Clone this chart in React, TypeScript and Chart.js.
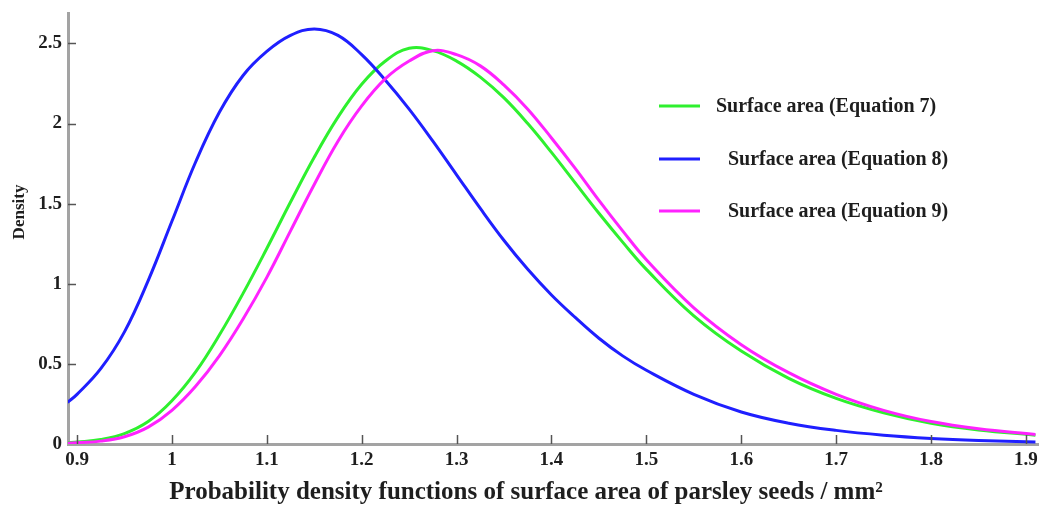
import React, { useEffect, useRef } from "react";
import { Chart, registerables } from "chart.js";

Chart.register(...registerables);

const xValues = [0.89, 0.9, 0.925, 0.95, 0.975, 1.0, 1.025, 1.05, 1.075, 1.1, 1.125, 1.15, 1.175, 1.2, 1.225, 1.25, 1.275, 1.3, 1.325, 1.35, 1.375, 1.4, 1.425, 1.45, 1.475, 1.5, 1.55, 1.6, 1.65, 1.7, 1.75, 1.8, 1.85, 1.91];
const eq7 = [0.008, 0.012, 0.028, 0.065, 0.14, 0.27, 0.45, 0.68, 0.94, 1.22, 1.51, 1.79, 2.04, 2.245, 2.39, 2.47, 2.455, 2.39, 2.29, 2.16, 2.0, 1.82, 1.63, 1.44, 1.26, 1.09, 0.8, 0.58, 0.41, 0.285, 0.195, 0.13, 0.088, 0.055];
const eq8 = [0.26, 0.31, 0.47, 0.7, 1.02, 1.39, 1.76, 2.07, 2.3, 2.45, 2.55, 2.59, 2.55, 2.43, 2.27, 2.09, 1.89, 1.68, 1.47, 1.27, 1.09, 0.93, 0.79, 0.66, 0.55, 0.46, 0.31, 0.2, 0.13, 0.085, 0.055, 0.035, 0.022, 0.012];
const eq9 = [0.004, 0.008, 0.018, 0.045, 0.105, 0.21, 0.36, 0.55, 0.78, 1.04, 1.33, 1.62, 1.89, 2.11, 2.28, 2.39, 2.455, 2.43, 2.36, 2.24, 2.09, 1.91, 1.72, 1.52, 1.33, 1.15, 0.85, 0.62, 0.445, 0.31, 0.21, 0.14, 0.095, 0.06];

const seriesLabels = ["Surface area (Equation 7)", "Surface area (Equation 8)", "Surface area (Equation 9)"];
const seriesColors = ["#2ef02e", "#1f1fff", "#ff22ff"];

const xTicks = [0.9, 1.0, 1.1, 1.2, 1.3, 1.4, 1.5, 1.6, 1.7, 1.8, 1.9];
const xTickLabels = ["0.9", "1", "1.1", "1.2", "1.3", "1.4", "1.5", "1.6", "1.7", "1.8", "1.9"];
const yTicks = [0, 0.5, 1, 1.5, 2, 2.5];
const yTickLabels = ["0", "0.5", "1", "1.5", "2", "2.5"];

const xTitle = "Probability density functions of surface area of parsley seeds / mm²";
const yTitle = "Density";

const SERIF = "'Liberation Serif', 'Times New Roman', serif";
const TEXT = "#1e1e1e";

const overlayPlugin = {
  id: "overlay",
  afterDraw(chart: any) {
    const { ctx, chartArea, scales } = chart;
    const xs = scales.x;
    const ys = scales.y;
    ctx.save();
    // inward ticks
    ctx.strokeStyle = "#555";
    ctx.lineWidth = 1.5;
    xs.ticks.forEach((t: any) => {
      const px = Math.round(xs.getPixelForValue(t.value)) + 0.5;
      ctx.beginPath();
      ctx.moveTo(px, chartArea.bottom);
      ctx.lineTo(px, chartArea.bottom - 9);
      ctx.stroke();
    });
    ys.ticks.forEach((t: any) => {
      if (t.value === 0) return;
      const py = Math.round(ys.getPixelForValue(t.value)) + 0.5;
      ctx.beginPath();
      ctx.moveTo(chartArea.left, py);
      ctx.lineTo(chartArea.left + 8, py);
      ctx.stroke();
    });

    // legend
    const rows = [
      { y: 106, textX: 716 },
      { y: 159, textX: 728 },
      { y: 211, textX: 728 },
    ];
    chart.data.datasets.forEach((ds: any, i: number) => {
      const r = rows[i];
      ctx.strokeStyle = ds.borderColor;
      ctx.lineWidth = 3;
      ctx.beginPath();
      ctx.moveTo(659, r.y);
      ctx.lineTo(700, r.y);
      ctx.stroke();
      ctx.fillStyle = TEXT;
      ctx.font = `bold 20px ${SERIF}`;
      ctx.textAlign = "left";
      ctx.textBaseline = "middle";
      ctx.fillText(ds.label, r.textX, r.y + 1);
    });

    // axis titles
    ctx.fillStyle = TEXT;
    ctx.font = `bold 25px ${SERIF}`;
    ctx.textAlign = "center";
    ctx.textBaseline = "middle";
    ctx.fillText(xTitle, 526, 493);

    ctx.save();
    ctx.translate(20, 212);
    ctx.rotate(-Math.PI / 2);
    ctx.font = `bold 17px ${SERIF}`;
    ctx.fillText(yTitle, 0, 0);
    ctx.restore();

    ctx.restore();
  },
};

export default function App() {
  const canvasRef = useRef<HTMLCanvasElement | null>(null);

  useEffect(() => {
    const canvas = canvasRef.current;
    if (!canvas) return;
    const makeData = (arr: number[]) => xValues.map((x, i) => ({ x, y: arr[i] }));
    const series = [eq7, eq8, eq9];
    const chart = new Chart(canvas, {
      type: "line",
      data: {
        datasets: series.map((arr, i) => ({
          label: seriesLabels[i],
          data: makeData(arr),
          borderColor: seriesColors[i],
          backgroundColor: seriesColors[i],
          borderWidth: 3,
          pointRadius: 0,
          tension: 0.4,
          fill: false,
          order: i === 2 ? 0 : i === 1 ? 1 : 2,
        })),
      },
      options: {
        animation: false,
        responsive: true,
        maintainAspectRatio: false,
        layout: { padding: { left: 0, top: 13, right: 2, bottom: 0 } },
        plugins: {
          legend: { display: false },
          tooltip: { enabled: false },
        },
        scales: {
          x: {
            type: "linear",
            min: 0.8905,
            max: 1.9127,
            grid: { display: false, drawTicks: false },
            border: { display: true, color: "#a3a3a3", width: 3 },
            afterBuildTicks: (s: any) => {
              s.ticks = xTicks.map((v) => ({ value: v }));
            },
            afterFit: (s: any) => {
              s.height = 63;
              s.paddingLeft = 0;
              s.paddingRight = 0;
            },
            ticks: {
              autoSkip: false,
              maxRotation: 0,
              padding: 5,
              color: TEXT,
              font: { family: SERIF, size: 19, weight: "bold" },
              callback: (_v: any, i: number) => xTickLabels[i],
            },
          },
          y: {
            type: "linear",
            min: 0,
            max: 2.69,
            grid: { display: false, drawTicks: false },
            border: { display: true, color: "#a3a3a3", width: 3 },
            afterBuildTicks: (s: any) => {
              s.ticks = yTicks.map((v) => ({ value: v }));
            },
            afterFit: (s: any) => {
              s.width = 68;
              s.paddingTop = 0;
              s.paddingBottom = 0;
            },
            ticks: {
              autoSkip: false,
              padding: 6,
              color: TEXT,
              font: { family: SERIF, size: 19, weight: "bold" },
              callback: (_v: any, i: number) => yTickLabels[i],
            },
          },
        },
      },
      plugins: [overlayPlugin],
    });
    return () => chart.destroy();
  }, []);

  return (
    <div style={{ position: "fixed", left: 0, top: 0, width: 1040, height: 507, background: "#fff" }}>
      <canvas ref={canvasRef} />
    </div>
  );
}
